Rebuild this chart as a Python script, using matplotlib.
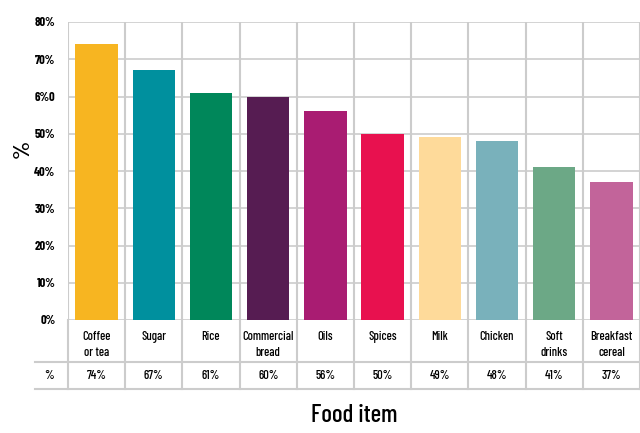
import matplotlib.pyplot as plt
import numpy as np

plt.rcParams['font.family'] = ['Barlow Condensed', 'DejaVu Sans']

# Share of households buying each food item
categories = ["Coffee\nor tea", "Sugar", "Rice", "Commercial\nbread", "Oils",
              "Spices", "Milk", "Chicken", "Soft\ndrinks", "Breakfast\ncereal"]
values = [74, 67, 61, 60, 56, 50, 49, 48, 41, 37]
colors = ["#F7B521", "#00909E", "#00875A", "#561C52", "#A91C72",
          "#E8114F", "#FEDA9A", "#79B1BB", "#6CA886", "#C2649A"]
ytick_vals = [0, 10, 20, 30, 40, 50, 60, 70, 80]
ytick_labels = ["0%", "10%", "20%", "30%", "40%", "50%", "6%0", "70%", "80%"]

grid_col = "#cccccc"

fig = plt.figure(figsize=(6.4, 4.33), dpi=100)
ax = fig.add_axes([68 / 640, 113 / 433, 572 / 640, 298 / 433])

x = np.arange(len(categories))
ax.bar(x, values, width=0.74, color=colors, zorder=3)

ax.set_xlim(-0.5, len(categories) - 0.5)
ax.set_ylim(0, 80)
ax.set_yticks(ytick_vals)
ax.set_yticklabels(ytick_labels, fontsize=9, fontweight='bold')
ax.set_xticks([])
ax.tick_params(axis='y', length=0, pad=9)
for side in ax.spines:
    ax.spines[side].set_visible(False)

# horizontal gridlines
for v in ytick_vals:
    ax.axhline(v, color=grid_col, lw=1.2, zorder=1)

# vertical separators running down through the table
row1 = -0.141
row2 = -0.232
for b in np.arange(-0.5, len(categories), 1.0):
    ax.plot([b, b], [80, 0], color=grid_col, lw=1.5, zorder=1)
    ax.plot([b, b], [0, row2 * 80], color=grid_col, lw=1.5, clip_on=False)

left = -0.0577
for yy in [row1, row2]:
    ax.plot([left, 1.0], [yy, yy], transform=ax.transAxes, color=grid_col,
            lw=1.5, clip_on=False)

# table contents
for i, (cat, val) in enumerate(zip(categories, values)):
    ax.text(i, -2.9, cat, ha='center', va='top', fontsize=9,
            fontweight='medium', linespacing=1.45)
    ax.text(i, (row1 + row2) / 2 * 80, f"{val}%", ha='center', va='center',
            fontsize=9, fontweight='medium')
ax.text(left / 2 - 0.004, (row1 + row2) / 2, "%", transform=ax.transAxes,
        ha='center', va='center', fontsize=9, fontweight='medium')

fig.text(23 / 640, 1 - 149 / 433, "%", rotation=90, ha='center', va='center',
         fontsize=17, fontweight='semibold')
fig.text(354 / 640, 1 - 416 / 433, "Food item", ha='center', va='center',
         fontsize=18, fontweight='medium')

fig.savefig("out.png", dpi=100)
